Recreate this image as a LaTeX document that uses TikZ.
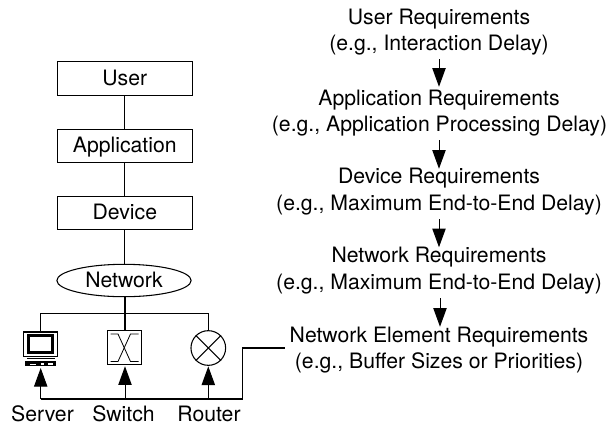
\documentclass[tikz,border=0pt]{standalone}
\usepackage{fontspec}
\setmainfont{TeX Gyre Heros}
\usetikzlibrary{arrows.meta,shapes.geometric}
\tikzset{
 txt/.style={inner sep=0pt,font=\fontsize{15.9pt}{18pt}\selectfont},
 lab/.style={txt,anchor=base,text height=11.25pt,text depth=0pt},
 boxtext/.style={txt,text height=9.8pt,text depth=0pt},
 layerbox/.style={boxtext,draw,line width=0.8pt,minimum width=101.25pt,minimum height=25pt},
 conn/.style={line width=0.8pt},
 thick2/.style={line width=1.2pt},
 tip/.style={-{Triangle[length=14pt,width=10pt]},line width=0.75pt},
}
\begin{document}
\begin{tikzpicture}[x=0.75pt,y=-0.75pt]
\useasboundingbox (0,0) rectangle (608,426);
\node[layerbox] (user) at (124.8,78.5) {User};
\node[layerbox] (app) at (124.8,145.8) {Application};
\node[layerbox] (dev) at (124.8,212.9) {Device};
\node[boxtext,draw,ellipse,line width=0.8pt,minimum width=100.7pt,minimum height=24.3pt] (net) at (124,280.5) {Network};
\draw[conn] (user) -- (app);
\draw[conn] (app) -- (dev);
\draw[conn] (dev) -- (dev |- net.north);
% device row
\node[draw,line width=0.8pt,minimum width=25.8pt,minimum height=25.5pt,inner sep=0pt] (switch) at (124.5,347.7) {};
\node[draw,circle,line width=0.8pt,minimum size=26pt,inner sep=0pt] (router) at (208.3,348) {};
\coordinate (server) at (40.7,331.7);
\coordinate (srvb) at (40.7,368);
\coordinate (hub) at (125,313.4);
\coordinate (hubl) at (40.7,313.4);
\coordinate (hubr) at (208.3,313.4);
\draw[thick2] (hub |- net.south) -- (hub);
\draw[conn] (hubl) -- (hubr);
\draw[conn] (hubl) -- (server);
\draw[conn] (hub) -- (hub |- switch.north);
\draw[conn] (hubr) -- (router);
% switch glyph
\draw[line width=0.6pt] (110.5,334) -- (118,334) -- (130.5,361.5) -- (138.5,361.5);
\draw[line width=0.6pt] (110.5,361.5) -- (118,361.5) -- (130.5,334) -- (138.5,334);
% router glyph
\draw[line width=0.8pt] (router.north west) -- (router.south east);
\draw[line width=0.8pt] (router.north east) -- (router.south west);
% server glyph
\draw[line width=0.8pt,fill=white] (23.7,332) rectangle (57.3,356.5);
\draw[line width=1.9pt] (28.5,335.5) rectangle (52.5,352.5);
\draw[line width=1pt] (27,358.5) -- (55,358.5);
\fill (25,360.5) rectangle (55.7,366);
\fill[white] (30,363.5) rectangle (36,364.7);
\fill[white] (41,363) rectangle (44,364.7);
\fill[white] (48,363) rectangle (53,364.7);
% bottom bus
\coordinate (busl) at (40.7,399);
\coordinate (busm) at (125,399);
\coordinate (busr) at (208.3,399);
\coordinate (corner) at (242.5,399);
\coordinate (up) at (242.5,347.7);
\coordinate (feed) at (285,347.7);
\draw[thick2] (busl) -- (corner) -- (up) -- (feed);
\draw[tip] (busl) -- (srvb);
\draw[tip,shorten >=0.75pt] (busm) -- (busm |- switch.south);
\draw[tip,shorten >=0.4pt] (busr) -- (busr |- router.south);
% labels
\node[lab] (lserver) at (42.5,421.5) {Server};
\node[lab] (lswitch) at (123.5,421.5) {Switch};
\node[lab] (lrouter) at (209,421.5) {Router};
% right column
\node[lab] (r1a) at (439,24) {User Requirements};
\node[lab] (r1b) at (439,50) {(e.g., Interaction Delay)};
\node[lab] (r2a) at (439,105.5) {Application Requirements};
\node[lab] (r2b) at (439.5,131) {(e.g., Application Processing Delay)};
\node[lab] (r3a) at (439,183) {Device Requirements};
\node[lab] (r3b) at (439,210) {(e.g., Maximum End-to-End Delay)};
\node[lab] (r4a) at (439,262.5) {Network Requirements};
\node[lab] (r4b) at (439,289.5) {(e.g., Maximum End-to-End Delay)};
\node[lab] (r5a) at (439,342) {Network Element Requirements};
\node[lab] (r5b) at (439,368) {(e.g., Buffer Sizes or Priorities)};
\coordinate (a1) at (439,59);
\coordinate (a2) at (439,140);
\coordinate (a3) at (439,219);
\coordinate (a4) at (440,298);
\draw[tip,shorten >=2.6pt] (a1) -- (a1 |- r2a.north);
\draw[tip,shorten >=-0.75pt] (a2) -- (a2 |- r3a.north);
\draw[tip] (a3) -- (a3 |- r4a.north);
\draw[tip] (a4) -- (a4 |- r5a.north);
\end{tikzpicture}
\end{document}
